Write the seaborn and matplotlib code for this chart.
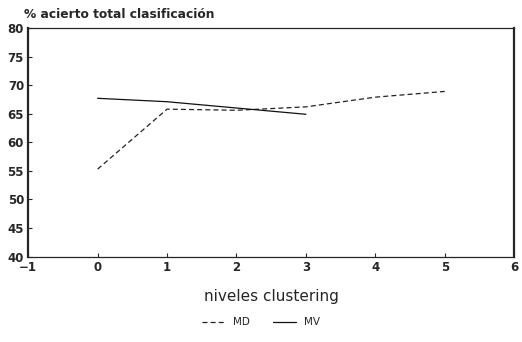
import pandas as pd
import matplotlib
matplotlib.use("Agg")
import matplotlib.pyplot as plt
import seaborn as sns

# values
niveles_md = [0, 1, 2, 3, 4, 5]
acierto_md = [55.3, 65.8, 65.6, 66.2, 67.9, 68.9]
niveles_mv = [0, 1, 2, 3]
acierto_mv = [67.7, 67.1, 66.0, 64.9]
x_ticks = [-1, 0, 1, 2, 3, 4, 5, 6]
y_ticks = [40, 45, 50, 55, 60, 65, 70, 75, 80]

df = pd.concat([
    pd.DataFrame({"nivel": niveles_md, "acierto": acierto_md, "serie": "MD"}),
    pd.DataFrame({"nivel": niveles_mv, "acierto": acierto_mv, "serie": "MV"}),
])

sns.set_style("ticks")
plt.rcParams["font.family"] = ["DejaVu Sans"]

fig = plt.figure(figsize=(5.22, 3.42), dpi=100)
ax = fig.add_axes([0.054, 0.25, 0.931, 0.668])

sns.lineplot(data=df, x="nivel", y="acierto", hue="serie", style="serie",
             palette={"MD": "#222222", "MV": "#111111"},
             dashes={"MD": (4, 2.5), "MV": ""}, linewidth=0.9, ax=ax, legend=False)

ax.set_xlim(-1, 6); ax.set_ylim(40, 80)
ax.set_xticks(x_ticks); ax.set_yticks(y_ticks)
ax.tick_params(direction="in", length=3, width=0.8, labelsize=8.5, pad=3)
for lab in ax.get_xticklabels() + ax.get_yticklabels():
    lab.set_fontweight("bold")
for s in ax.spines.values():
    s.set_linewidth(0.9)
ax.spines["left"].set_linewidth(1.6)
ax.spines["right"].set_linewidth(1.6)
ax.set_xlabel("niveles clustering", fontsize=11, labelpad=11)
ax.set_ylabel("")
fig.text(0.046, 0.958, "% acierto total clasificación", fontsize=8.8,
         fontweight="bold", ha="left", va="center")

handles = [plt.Line2D([], [], color="#222222", lw=0.9, dashes=(4, 2.5)),
           plt.Line2D([], [], color="#111111", lw=0.9)]
fig.legend(handles, ["MD", "MV"], loc="center", bbox_to_anchor=(0.5, 0.058),
           ncol=2, frameon=False, fontsize=7.5, handlelength=2.2, columnspacing=2.2)

plt.savefig("out.png", dpi=100)
